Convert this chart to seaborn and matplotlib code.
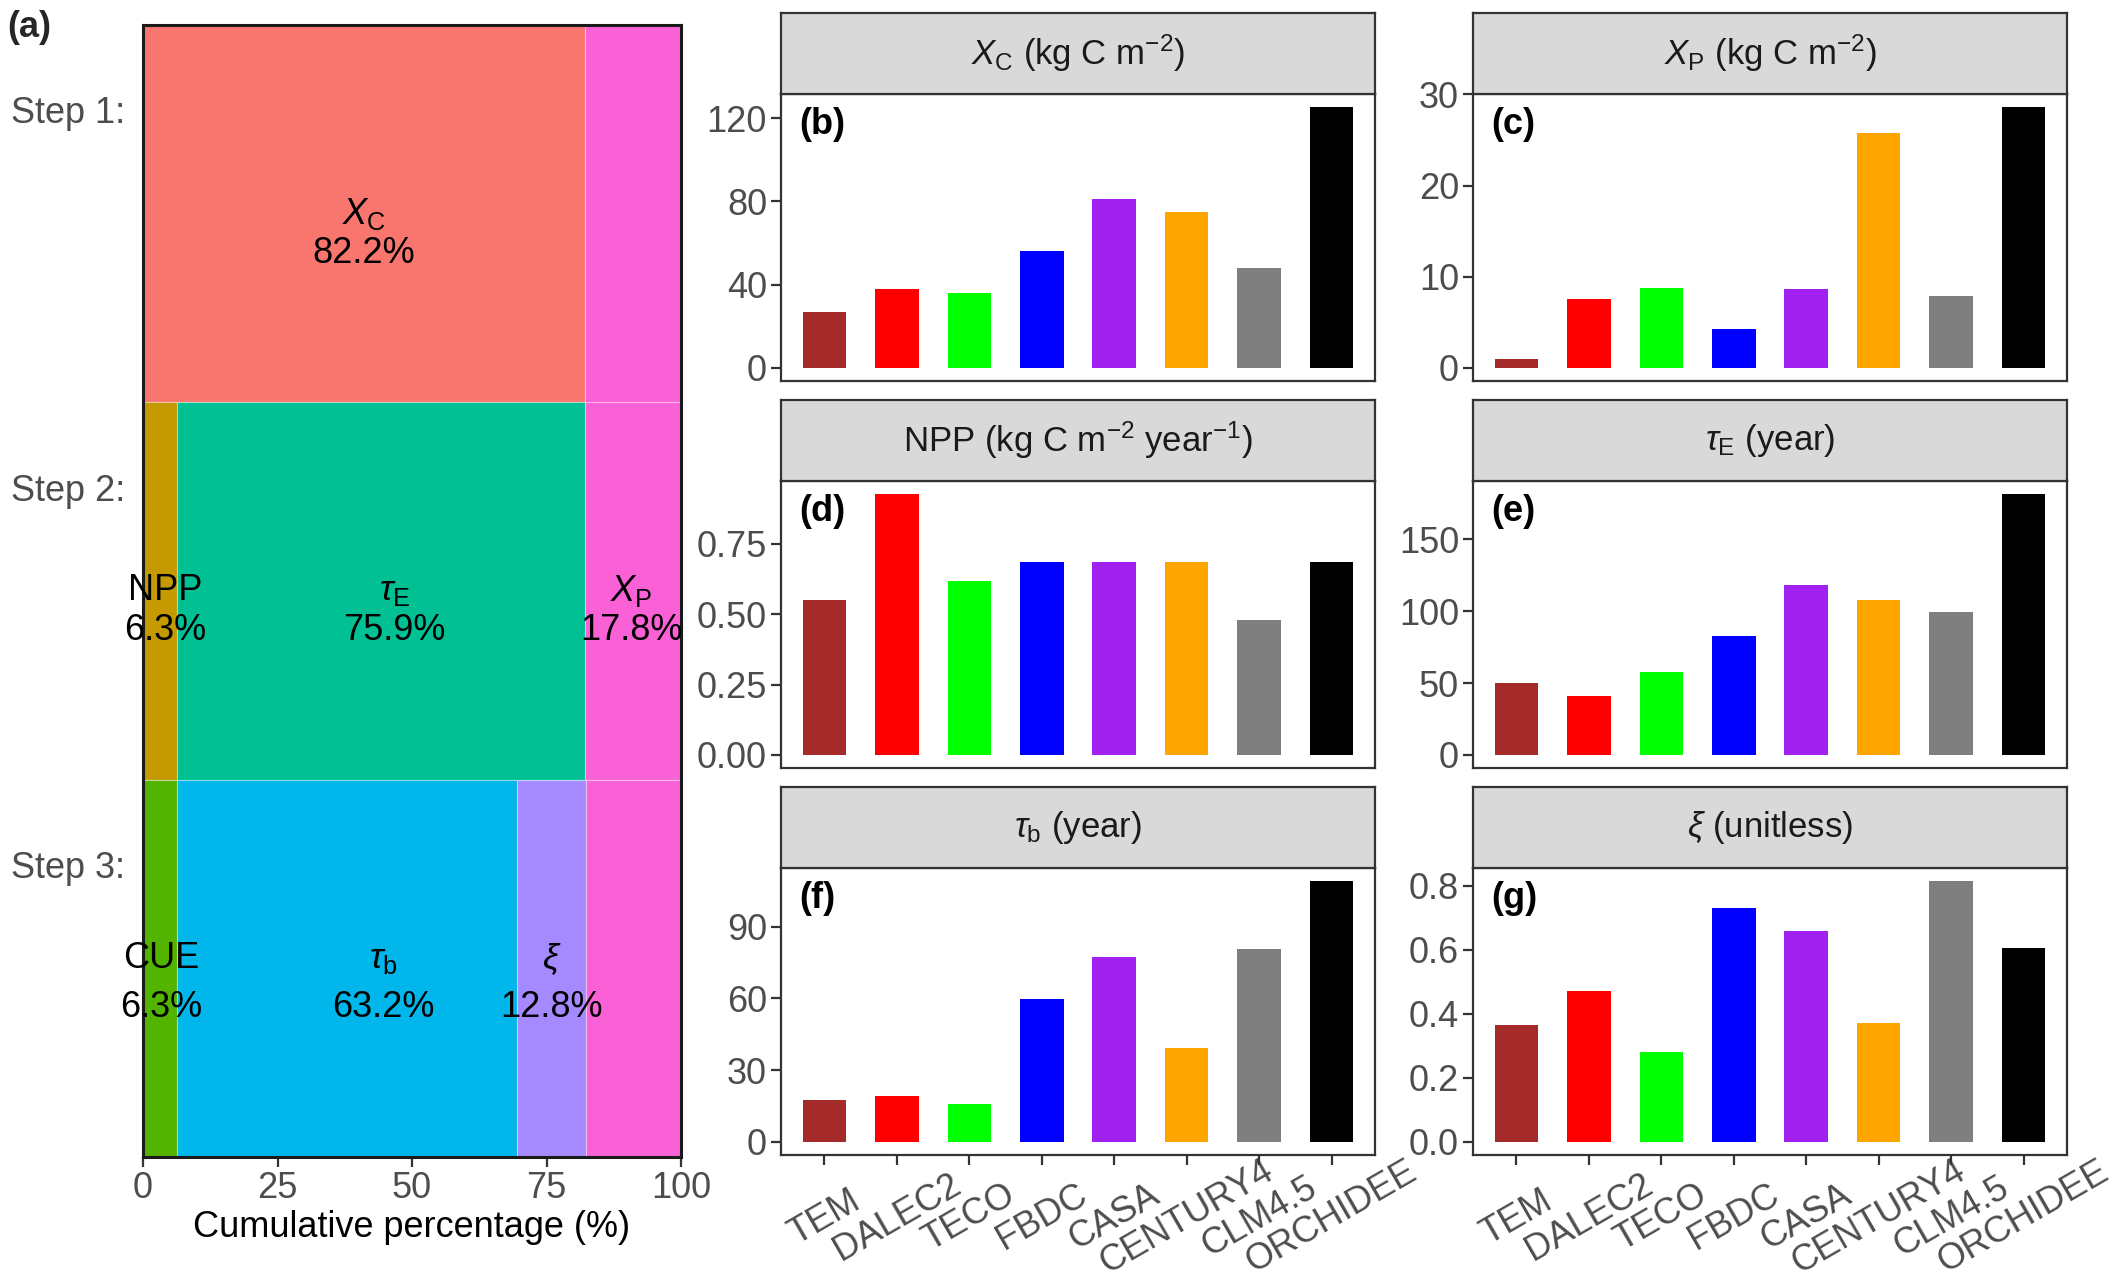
import matplotlib
matplotlib.use("Agg")
import matplotlib.pyplot as plt
import seaborn as sns
import pandas as pd

sns.set_theme(style="ticks")
plt.rcParams["font.family"] = ["Liberation Sans", "DejaVu Sans"]
plt.rcParams["mathtext.fontset"] = "custom"
plt.rcParams["mathtext.rm"] = "Liberation Sans"
plt.rcParams["mathtext.it"] = "Liberation Sans:italic"
plt.rcParams["mathtext.bf"] = "Liberation Sans:bold"

# ---- panel (a): stepwise decomposition ----
steps = ["Step 1:", "Step 2:", "Step 3:"]
step1_parts = ["Xc", "Xp"]
step1_pct = [82.2, 17.8]
step2_parts = ["NPP", "tauE", "Xp"]
step2_pct = [6.3, 75.9, 17.8]
step3_parts = ["CUE", "taub", "xi", "Xp"]
step3_pct = [6.3, 63.2, 12.8, 17.8]

part_colors = {
    "Xc": "#F8766D", "NPP": "#C49A00", "CUE": "#53B400", "tauE": "#00C094",
    "taub": "#00B6EB", "xi": "#A58AFF", "Xp": "#FB61D7",
}
part_names = {
    "Xc": r"$X_\mathrm{C}$", "NPP": "NPP", "CUE": "CUE", "tauE": r"$\tau_\mathrm{E}$",
    "taub": r"$\tau_\mathrm{b}$", "xi": r"$\xi$", "Xp": r"$X_\mathrm{P}$",
}
# which segments carry a label, and where the label sits along x
label_spots = [
    ("Step 1:", "Xc", 41.1),
    ("Step 2:", "NPP", 4.2),
    ("Step 2:", "tauE", 46.8),
    ("Step 2:", "Xp", 90.8),
    ("Step 3:", "CUE", 3.4),
    ("Step 3:", "taub", 44.7),
    ("Step 3:", "xi", 76.0),
]
name_shift = {"Step 1:": 0.0, "Step 2:": 0.0, "Step 3:": 0.025}

# ---- panels (b)-(g): model values ----
models = ["TEM", "DALEC2", "TECO", "FBDC", "CASA", "CENTURY4", "CLM4.5", "ORCHIDEE"]
model_colors = ["#A52A2A", "#FF0000", "#00FF00", "#0000FF", "#A020F0", "#FFA500", "#7F7F7F", "#000000"]

xc_vals = [27.0, 38.0, 35.9, 56.3, 80.9, 74.8, 47.8, 125.3]
xp_vals = [1.0, 7.55, 8.76, 4.31, 8.69, 25.77, 7.85, 28.6]
npp_vals = [0.549, 0.927, 0.617, 0.686, 0.686, 0.686, 0.480, 0.686]
tau_e_vals = [49.8, 40.9, 57.9, 82.6, 118.6, 107.9, 99.5, 181.6]
tau_b_vals = [17.7, 19.1, 16.0, 59.6, 77.3, 39.1, 80.5, 109.1]
xi_vals = [0.365, 0.471, 0.280, 0.731, 0.660, 0.371, 0.815, 0.607]

panel_titles = [
    r"$X_\mathrm{C}$ (kg C m$^{-2}$)",
    r"$X_\mathrm{P}$ (kg C m$^{-2}$)",
    r"NPP (kg C m$^{-2}$ year$^{-1}$)",
    r"$\tau_\mathrm{E}$ (year)",
    r"$\tau_\mathrm{b}$ (year)",
    r"$\xi$ (unitless)",
]
panel_tags = ["(b)", "(c)", "(d)", "(e)", "(f)", "(g)"]
panel_vals = [xc_vals, xp_vals, npp_vals, tau_e_vals, tau_b_vals, xi_vals]
panel_ticks = [
    [0, 40, 80, 120],
    [0, 10, 20, 30],
    [0, 0.25, 0.50, 0.75],
    [0, 50, 100, 150],
    [0, 30, 60, 90],
    [0, 0.2, 0.4, 0.6, 0.8],
]
panel_ticklabels = [
    ["0", "40", "80", "120"],
    ["0", "10", "20", "30"],
    ["0.00", "0.25", "0.50", "0.75"],
    ["0", "50", "100", "150"],
    ["0", "30", "60", "90"],
    ["0.0", "0.2", "0.4", "0.6", "0.8"],
]

W, H = 2128, 1283
fig = plt.figure(figsize=(W / 200, H / 200), dpi=200)
FS = 13
TICK_C = "#4D4D4D"
EDGE_C = "#333333"

# ---------------- panel (a) ----------------
ax_a = fig.add_axes([143 / W, 1 - 1157 / H, 538 / W, 1132 / H])
step_rows = {"Step 1:": 3, "Step 2:": 2, "Step 3:": 1}
step_data = {
    "Step 1:": (step1_parts, step1_pct),
    "Step 2:": (step2_parts, step2_pct),
    "Step 3:": (step3_parts, step3_pct),
}
for step in steps:
    parts, pct = step_data[step]
    left = 0.0
    for p, v in zip(parts, pct):
        ax_a.barh(step_rows[step], v, left=left, height=1.0, color=part_colors[p],
                  edgecolor=(1, 1, 1, 0.35), linewidth=0.4)
        left += v

for step, p, xpos in label_spots:
    parts, pct = step_data[step]
    v = pct[parts.index(p)]
    y = step_rows[step]
    ax_a.text(xpos, y + name_shift[step], part_names[p], ha="center", va="center",
              fontsize=FS, color="black", clip_on=False, zorder=5)
    ax_a.text(xpos, y - 0.105, f"{v}%", ha="center", va="center", fontsize=FS,
              color="black", clip_on=False, zorder=5)

ax_a.set_xlim(0, 100)
ax_a.set_ylim(0.5, 3.5)
ax_a.set_xticks([0, 25, 50, 75, 100])
ax_a.set_yticks([step_rows[s] + 0.275 for s in steps])
ax_a.set_yticklabels(steps)
ax_a.tick_params(axis="y", length=0, pad=6.5, labelsize=FS, labelcolor=TICK_C)
ax_a.tick_params(axis="x", length=3.5, width=0.8, color=EDGE_C, pad=1.5,
                 labelsize=FS, labelcolor=TICK_C)
ax_a.set_xlabel("Cumulative percentage (%)", fontsize=FS, color="black", labelpad=1.5)
for s in ax_a.spines.values():
    s.set_color("#1A1A1A")
    s.set_linewidth(1.1)
    s.set_zorder(4)
fig.text(7 / W, 1 - 10 / H, "(a)", fontsize=FS, fontweight="bold", ha="left", va="top")

# ---------------- panels (b)-(g) ----------------
col_left = [781, 1473]
col_w = 594
strip_top = [13, 400, 787]
strip_h = 81
plot_h = 287

for i in range(6):
    r, c = divmod(i, 2)
    x0 = col_left[c] / W
    top = strip_top[r]
    ax = fig.add_axes([x0, 1 - (top + strip_h + plot_h) / H, col_w / W, plot_h / H])
    sax = fig.add_axes([x0, 1 - (top + strip_h) / H, col_w / W, strip_h / H])

    df = pd.DataFrame({"model": models, "value": panel_vals[i]})
    sns.barplot(data=df, x="model", y="value", hue="model", order=models,
                hue_order=models, palette=model_colors, saturation=1,
                width=0.6, legend=False, errorbar=None, linewidth=0, ax=ax)
    vmax = max(panel_vals[i])
    ax.set_ylim(-0.05 * vmax, 1.05 * vmax)
    ax.set_xlim(-0.6, len(models) - 0.4)
    ax.set_yticks(panel_ticks[i])
    ax.set_yticklabels(panel_ticklabels[i])
    ax.set_xlabel("")
    ax.set_ylabel("")
    ax.tick_params(axis="y", length=3.5, width=0.8, color=EDGE_C, pad=1.5,
                   labelsize=FS, labelcolor=TICK_C)
    if r == 2:
        ax.tick_params(axis="x", length=3.5, width=0.8, color=EDGE_C, pad=19,
                       labelsize=FS, labelcolor=TICK_C)
        for lab in ax.get_xticklabels():
            lab.set_rotation(30)
            lab.set_rotation_mode("anchor")
            lab.set_ha("center")
            lab.set_va("center")
    else:
        ax.tick_params(axis="x", bottom=False, labelbottom=False)
    for s in ax.spines.values():
        s.set_color(EDGE_C)
        s.set_linewidth(0.8)
    ax.text(0.03, 0.955, panel_tags[i], transform=ax.transAxes, ha="left", va="top",
            fontsize=FS, fontweight="bold", color="black")

    sax.set_facecolor("#D9D9D9")
    sax.set_xticks([])
    sax.set_yticks([])
    for s in sax.spines.values():
        s.set_color(EDGE_C)
        s.set_linewidth(0.8)
    sax.text(0.5, 0.5, panel_titles[i], transform=sax.transAxes, ha="center",
             va="center", fontsize=12.5, color="#1A1A1A")

fig.savefig("out.png", dpi=200, facecolor="white")
